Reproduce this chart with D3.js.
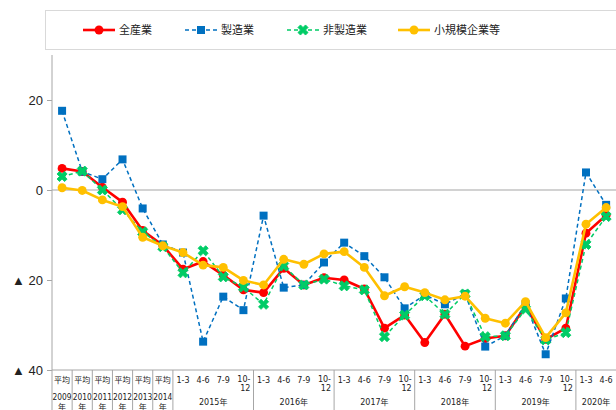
<!DOCTYPE html>
<html>
<head>
<meta charset="utf-8">
<script src="https://cdn.jsdelivr.net/npm/d3@7"></script>
<style>
  html, body { margin: 0; padding: 0; background: #fff; }
  svg { display: block; }
  text { font-family: "Liberation Sans", Arial, "Noto Sans CJK JP", sans-serif; fill: #222; }
  .cat text { font-family: "DejaVu Sans", "Noto Sans CJK JP", sans-serif; font-size: 8px; }
  .cjk { font-family: "Noto Sans CJK JP", sans-serif; }
</style>
</head>
<body>
<svg id="chart" width="616" height="410"></svg>
<script>
// Period labels (first row under the axis) and the year each period belongs to
const periods = ["平均","平均","平均","平均","平均","平均",
  "1-3","4-6","7-9","10-12",
  "1-3","4-6","7-9","10-12",
  "1-3","4-6","7-9","10-12",
  "1-3","4-6","7-9","10-12",
  "1-3","4-6","7-9","10-12",
  "1-3","4-6"];
const years = ["2009年","2010年","2011年","2012年","2013年","2014年",
  "2015年","2015年","2015年","2015年",
  "2016年","2016年","2016年","2016年",
  "2017年","2017年","2017年","2017年",
  "2018年","2018年","2018年","2018年",
  "2019年","2019年","2019年","2019年",
  "2020年","2020年"];

const seriesNames = ["全産業", "製造業", "非製造業", "小規模企業等"];

const allIndustries = [4.8, 4.1, 0.6, -2.7, -9.0, -12.3, -17.6, -15.9, -18.9, -22.2,
  -22.8, -17.4, -21.1, -19.5, -20.0, -22.0, -30.7, -27.8, -33.9, -27.6,
  -34.7, -33.0, -32.4, -25.8, -33.2, -30.7, -9.6, -5.6];
const manufacturing = [17.6, 4.1, 2.4, 6.8, -4.1, -12.1, -13.9, -33.7, -23.7, -26.7,
  -5.7, -21.7, -21.1, -16.1, -11.7, -14.7, -19.4, -26.3, -23.3, -25.4,
  -23.1, -34.8, -32.4, -25.4, -36.5, -24.1, 3.9, -3.3];
const nonManufacturing = [3.0, 4.2, 0.0, -4.4, -9.3, -12.6, -18.4, -13.5, -19.3, -21.6,
  -25.4, -16.9, -21.1, -19.8, -21.3, -22.2, -32.6, -27.8, -23.5, -27.6,
  -23.1, -32.6, -32.4, -26.5, -33.3, -31.7, -12.1, -5.9];
const smallBusiness = [0.5, -0.1, -2.2, -3.7, -10.5, -12.4, -13.9, -16.7, -17.2, -20.1,
  -21.1, -15.4, -16.5, -14.2, -13.7, -17.2, -23.5, -21.5, -22.8, -24.4,
  -23.6, -28.5, -29.6, -24.8, -32.8, -27.3, -7.6, -3.9];

const yTicks = [20, 0, -20, -40];

const svg = d3.select("#chart");
const x0 = 52, axisY = 370;
const idx = d3.range(periods.length);

const x = d3.scaleBand().domain(idx).range([x0, x0 + periods.length * 20.15]).padding(0);
const y = d3.scaleLinear().domain([-40, 30]).range([axisY, 55]);
const cx = i => x(i) + x.bandwidth() / 2;

// Legend frame
svg.append("rect").attr("x", 45.5).attr("y", 10.5).attr("width", 600).attr("height", 39)
  .attr("fill", "#fff").attr("stroke", "#d9d9d9");

// Zero line
svg.append("line").attr("x1", x0).attr("x2", 616).attr("y1", y(0)).attr("y2", y(0))
  .attr("stroke", "#a6a6a6").attr("stroke-width", 1.2);

// Y axis
const yAxis = d3.axisLeft(y).tickValues(yTicks).tickSize(5).tickPadding(4)
  .tickFormat(d => d < 0 ? "▲ " + Math.abs(d) : String(d));
const gy = svg.append("g").attr("transform", `translate(${x0},0)`).call(yAxis);
gy.select(".domain").remove();
gy.selectAll(".tick line").attr("stroke", "#a6a6a6");
gy.selectAll(".tick text").attr("font-size", 13).attr("fill", "#222");
svg.append("line").attr("x1", x0).attr("x2", x0).attr("y1", 55).attr("y2", 410)
  .attr("stroke", "#a6a6a6");

// X axis baseline
svg.append("line").attr("x1", x0).attr("x2", 616).attr("y1", axisY).attr("y2", axisY)
  .attr("stroke", "#a6a6a6");

// Category label table
const cat = svg.append("g").attr("class", "cat");
// boundaries: every annual column, and between year groups
const bounds = [];
idx.forEach(i => {
  if (i === 0) return;
  if (periods[i] === "平均" || periods[i - 1] === "平均" || years[i] !== years[i - 1]) bounds.push(i);
});
cat.selectAll("line.sep").data(bounds).join("line").attr("class", "sep")
  .attr("x1", i => x(i)).attr("x2", i => x(i)).attr("y1", axisY).attr("y2", 410)
  .attr("stroke", "#a6a6a6");

idx.forEach(i => {
  const p = periods[i];
  if (p === "10-12") {
    cat.append("text").attr("x", cx(i) + 7).attr("y", 382).attr("text-anchor", "end").text("10-");
    cat.append("text").attr("x", cx(i) + 7).attr("y", 391).attr("text-anchor", "end").text("12");
  } else {
    cat.append("text").attr("x", cx(i)).attr("y", 383).attr("text-anchor", "middle").text(p);
  }
  if (p === "平均") {
    cat.append("text").attr("x", cx(i)).attr("y", 400).attr("text-anchor", "middle")
      .attr("textLength", 19).attr("lengthAdjust", "spacingAndGlyphs")
      .text(years[i].replace("年", ""));
    cat.append("text").attr("x", cx(i)).attr("y", 410).attr("text-anchor", "middle").text("年");
  }
});
// quarterly year group labels
const groups = d3.groups(idx.filter(i => periods[i] !== "平均"), i => years[i]);
groups.forEach(([yr, members]) => {
  const mid = (x(members[0]) + x(members[members.length - 1]) + x.bandwidth()) / 2;
  cat.append("text").attr("x", mid).attr("y", 405).attr("text-anchor", "middle").text(yr);
});

// Series
const series = [
  { name: seriesNames[0], values: allIndustries, color: "#ff0000", width: 2.6, dash: null, marker: "circle" },
  { name: seriesNames[1], values: manufacturing, color: "#0070c0", width: 1.5, dash: "4,3", marker: "square" },
  { name: seriesNames[2], values: nonManufacturing, color: "#00cc66", width: 1.5, dash: "4,3", marker: "x" },
  { name: seriesNames[3], values: smallBusiness, color: "#ffc000", width: 2.6, dash: null, marker: "circle" }
];

const line = d3.line().x((d, i) => cx(i)).y(d => y(d));
const symbolFor = m => m === "circle" ? d3.symbol(d3.symbolCircle, 62)
  : m === "square" ? d3.symbol(d3.symbolSquare, 64)
  : d3.symbol(d3.symbolCross, 64);

function drawMarker(g, m, color, px, py) {
  const path = g.append("path").attr("d", symbolFor(m)()).attr("fill", color)
    .attr("transform", `translate(${px},${py})` + (m === "x" ? " rotate(45)" : ""));
  if (m === "x") path.attr("stroke", color).attr("stroke-width", 0.8);
}

series.forEach(s => {
  const g = svg.append("g");
  g.append("path").datum(s.values).attr("d", line).attr("fill", "none")
    .attr("stroke", s.color).attr("stroke-width", s.width)
    .attr("stroke-dasharray", s.dash).attr("stroke-linejoin", "round");
  s.values.forEach((v, i) => drawMarker(g, s.marker, s.color, cx(i), y(v)));
});

// Legend entries
const legendX = [83, 185, 287, 398];
series.forEach((s, k) => {
  const g = svg.append("g").attr("transform", `translate(${legendX[k]},30)`);
  g.append("line").attr("x1", 0).attr("x2", 32).attr("y1", 0).attr("y2", 0)
    .attr("stroke", s.color).attr("stroke-width", s.width).attr("stroke-dasharray", s.dash);
  drawMarker(g, s.marker, s.color, 16, 0);
  g.append("text").attr("class", "cjk").attr("x", 36).attr("y", 4).attr("font-size", 11).text(s.name);
});
</script>
</body>
</html>
